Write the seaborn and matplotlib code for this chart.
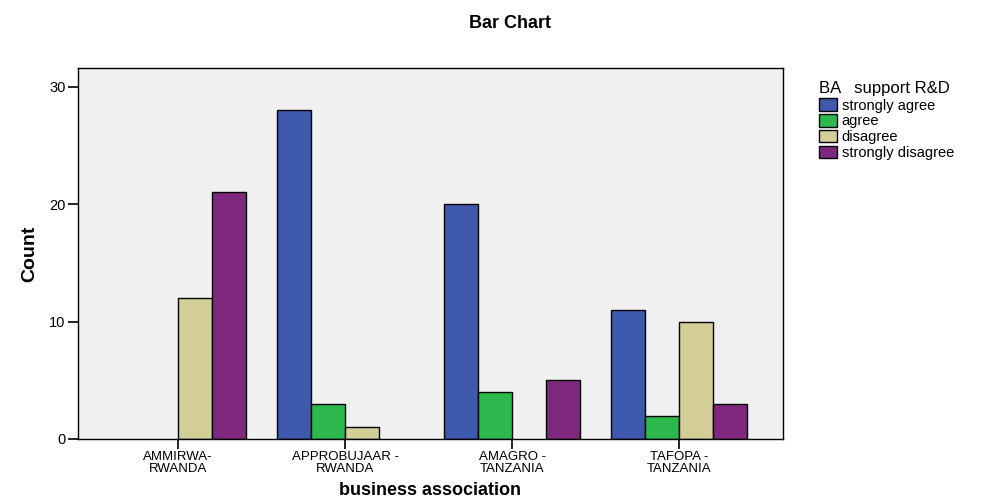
import matplotlib
matplotlib.use("Agg")
import matplotlib.pyplot as plt
from matplotlib.patches import Patch
import seaborn as sns
import pandas as pd

associations = ["AMMIRWA-\nRWANDA", "APPROBUJAAR -\nRWANDA", "AMAGRO -\nTANZANIA", "TAFOPA -\nTANZANIA"]
responses = ["strongly agree", "agree", "disagree", "strongly disagree"]
strongly_agree = [0, 28, 20, 11]
agree = [0, 3, 4, 2]
disagree = [12, 1, 0, 10]
strongly_disagree = [21, 0, 5, 3]
colors = ["#3E58AC", "#2DB84D", "#D3CE97", "#7E297E"]

rows = []
for resp, vals in zip(responses, [strongly_agree, agree, disagree, strongly_disagree]):
    for assoc, v in zip(associations, vals):
        rows.append({"association": assoc, "response": resp, "count": v})
df = pd.DataFrame(rows)

sns.set_theme(style="white")
plt.rcParams["font.family"] = ["Liberation Sans", "DejaVu Sans"]
plt.rcParams["text.color"] = "black"
plt.rcParams["axes.labelcolor"] = "black"
plt.rcParams["xtick.color"] = "black"
plt.rcParams["ytick.color"] = "black"

fig = plt.figure(figsize=(10, 5), dpi=100)
ax = fig.add_axes([0.078, 0.122, 0.705, 0.742])
ax.set_facecolor("#F0F0F0")

sns.barplot(data=df, x="association", y="count", hue="response",
            hue_order=responses, order=associations, palette=colors,
            saturation=1, width=0.815, edgecolor="black", linewidth=1.0,
            ax=ax, legend=False, errorbar=None)

# empty categories get no visible bar
for patch in ax.patches:
    if patch.get_height() == 0:
        patch.set_visible(False)

ax.set_ylim(0, 31.6)
ax.set_xlim(-0.6, 3.62)
ax.set_yticks([0, 10, 20, 30])
ax.tick_params(axis="both", direction="out", length=7, width=1.2, color="black",
               left=True, bottom=True, labelsize=10.5, pad=2)
for lbl in ax.get_xticklabels():
    lbl.set_linespacing(1.0)
    lbl.set_fontsize(9.5)
for sp in ax.spines.values():
    sp.set_color("black")
    sp.set_linewidth(1.0)

ax.set_xlabel("business association", fontsize=13, fontweight="bold", labelpad=5)
ax.set_ylabel("Count", fontsize=14, fontweight="bold", labelpad=8)
fig.suptitle("Bar Chart", x=0.51, y=0.97, fontsize=13, fontweight="bold")

handles = [Patch(facecolor=c, edgecolor="black", linewidth=1.0) for c in colors]
leg = fig.legend(handles, responses, loc="upper left", bbox_to_anchor=(0.819, 0.839),
                 frameon=False, fontsize=10.5, title="BA   support R&D",
                 title_fontsize=12, handlelength=1.25, handleheight=0.95,
                 handletextpad=0.3, labelspacing=0.1, borderaxespad=0,
                 borderpad=0)
leg._legend_box.align = "left"
leg._legend_box.sep = 2

fig.savefig("out.png", dpi=100, facecolor="white")
